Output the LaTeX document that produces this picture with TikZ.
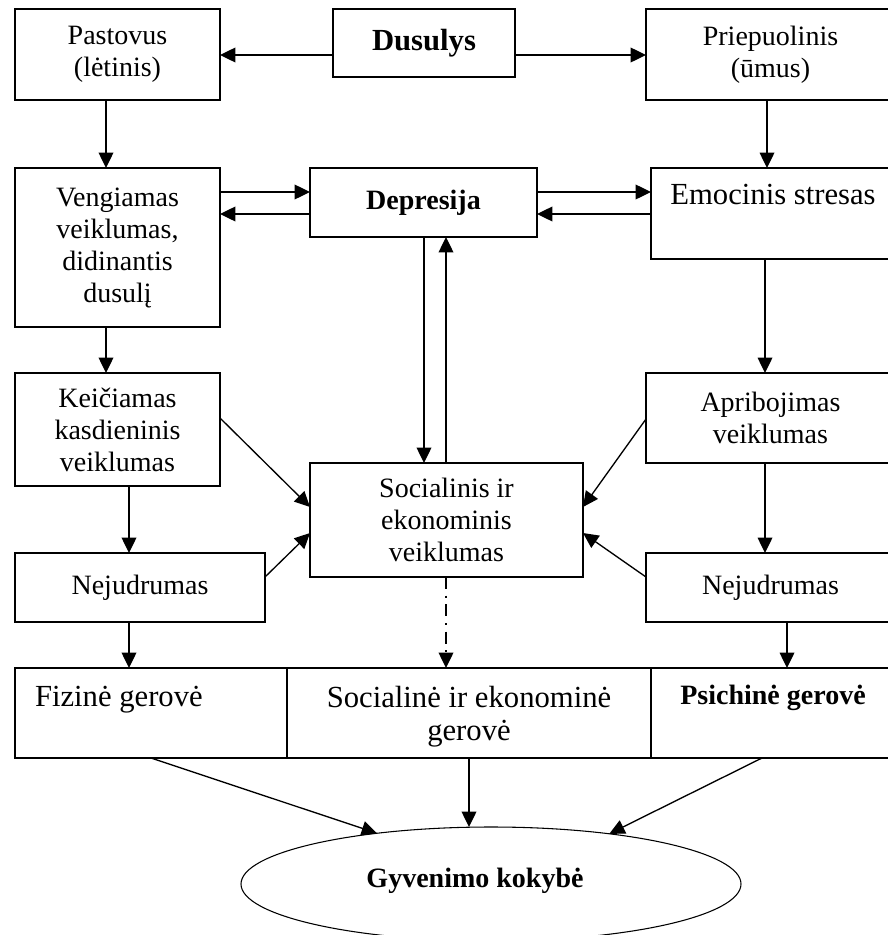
\documentclass[tikz,border=0pt]{standalone}
\usepackage{fontspec}
\setmainfont{Liberation Serif}
\usetikzlibrary{arrows.meta,shapes.geometric}
\newcommand\fnorm{\fontsize{21}{24}\selectfont}
\newcommand\fbig{\fontsize{23}{24.75}\selectfont}
\tikzset{
  box/.style={draw, rectangle, inner sep=2pt, outer sep=0pt, anchor=north west, align=center, font=\fnorm},
  sz/.style 2 args={minimum width=#1*0.75pt, minimum height=#2*0.75pt},
  arr/.style={-{Triangle[length=11.5pt,width=11pt]}},
  dashdot/.style={dash pattern=on 9pt off 5pt on 1.5pt off 5pt},
  txt/.style={inner sep=0pt, outer sep=0pt, align=center},
}
\begin{document}
\begin{tikzpicture}[x=0.75pt, y=-0.75pt, line width=1pt]
\useasboundingbox (0,0) rectangle (888,935);
\clip (0,0) rectangle (888,935);
% boxes
\node[box, sz={205}{91}] (pas) at (15,9) {Pastovus\\(lėtinis)};
\node[box, sz={182}{68}, font=\fbig\bfseries] (dus) at (333,9) {Dusulys};
\node[box, sz={249}{91}] (pri) at (646,9) {Priepuolinis\\(ūmus)};
\node[box, sz={205}{159}] (ven) at (15,168) {Vengiamas\\veiklumas,\\didinantis\\dusulį};
\node[box, sz={227}{69}, font=\fnorm\bfseries] (dep) at (310,168) {Depresija};
\node[box, sz={244}{91}] (emo) at (651,168) {};
\node[txt, anchor=north, font=\fbig] (emot) at (emo.north |- 0,184) {Emocinis stresas};
\node[box, sz={205}{113}] (kei) at (15,373) {Keičiamas\\kasdieninis\\veiklumas};
\node[box, sz={273}{114}] (soc) at (310,463) {Socialinis ir\\ekonominis\\veiklumas};
\node[box, sz={249}{90}] (apr) at (646,373) {Apribojimas\\veiklumas};
\node[box, sz={250}{69}] (nejl) at (15,553) {Nejudrumas};
\node[box, sz={249}{69}] (nejr) at (646,553) {Nejudrumas};
% bottom row
\node[box, sz={272}{90}] (fiz) at (15,668) {};
\node[box, sz={364}{90}] (sg) at (287,668) {};
\node[box, sz={244}{90}] (psi) at (651,668) {};
\node[txt, anchor=north west, font=\fbig] (fizt) at (35,686) {Fizinė gerovė};
\node[txt, anchor=north, font=\fbig] (sgt) at (sg.north |- 0,686) {Socialinė ir ekonominė\\gerovė};
\node[txt, anchor=north, font=\fnorm\bfseries] (psit) at (psi.north |- 0,685) {Psichinė gerovė};
% ellipse
\node[draw, ellipse, line width=0.8pt, inner sep=0pt, outer sep=0pt, minimum width=500*0.75pt, minimum height=114*0.75pt] (ell) at (491,884) {};
\node[txt, font=\fnorm\bfseries] (ellt) at (475,881) {Gyvenimo kokybė};
% connectors
\draw[arr] (dus.west |- 0,55) -- (pas.east |- 0,55);
\draw[arr] (dus.east |- 0,55) -- (pri.west |- 0,55);
\draw[arr] (pas.south -| 106,0) -- (ven.north -| 106,0);
\draw[arr] (pri.south -| 767,0) -- (emo.north -| 767,0);
\draw[arr] (ven.east |- 0,192) -- (dep.west |- 0,192);
\draw[arr] (dep.west |- 0,214) -- (ven.east |- 0,214);
\draw[arr] (dep.east |- 0,192) -- (emo.west |- 0,192);
\draw[arr] (emo.west |- 0,214) -- (dep.east |- 0,214);
\draw[arr] (dep.south -| 424,0) -- (soc.north -| 424,0);
\draw[arr] (soc.north -| 446,0) -- (dep.south -| 446,0);
\draw[arr] (ven.south -| 106,0) -- (kei.north -| 106,0);
\draw[arr] (emo.south -| 765,0) -- (apr.north -| 765,0);
\draw[arr] (kei.east |- 0,418) -- (soc.west |- 0,507);
\draw[arr] (kei.south -| 129,0) -- (nejl.north -| 129,0);
\draw[arr] (nejl.east |- 0,577) -- (soc.west |- 0,533);
\draw[arr] (apr.west |- 0,419) -- (soc.east |- 0,507);
\draw[arr] (apr.south -| 765,0) -- (nejr.north -| 765,0);
\draw[arr] (nejr.west |- 0,577) -- (soc.east |- 0,533);
\draw[arr, dashdot] (soc.south -| 446,0) -- (sg.north -| 446,0);
\draw[arr] (nejl.south -| 129,0) -- (fiz.north -| 129,0);
\draw[arr] (nejr.south -| 787,0) -- (psi.north -| 787,0);
\draw[arr] (fiz.south) -- (ell.156);
\draw[arr] (sg.south) -- (sg.south |- ell.north);
\draw[arr] (psi.south -| 762,0) -- (ell.23.5);
\end{tikzpicture}
\end{document}
